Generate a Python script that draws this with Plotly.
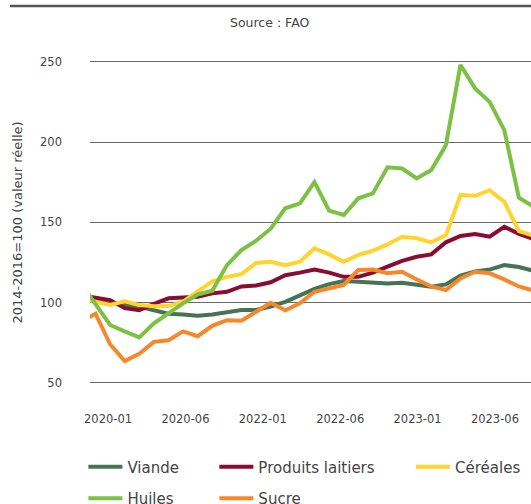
import plotly.graph_objects as go

months = ["2020-01", "2020-02", "2020-03", "2020-04", "2020-05", "2020-06",
          "2020-07", "2020-08", "2020-09", "2020-10", "2020-11", "2020-12",
          "2021-01", "2021-02", "2021-03", "2021-04", "2021-05", "2021-06",
          "2021-07", "2021-08", "2021-09", "2021-10", "2021-11", "2021-12",
          "2022-01", "2022-02", "2022-03", "2022-04", "2022-05", "2022-06",
          "2022-07", "2022-08"]

viande = [102.5, 101.0, 100.4, 98.4, 97.4, 95.5, 93.0, 92.6, 91.8, 92.5, 93.8, 95.4,
          95.4, 97.5, 100.4, 104.3, 108.5, 111.5, 113.4, 113.0, 112.3, 111.9, 112.3, 110.9,
          109.8, 111.3, 116.7, 119.4, 120.5, 123.3, 122.1, 119.8]
produits_laitiers = [104.5, 103.3, 101.5, 96.5, 95.2, 99.1, 102.6, 103.2, 103.6, 105.7, 106.7, 110.0,
                     110.6, 112.6, 117.0, 118.6, 120.5, 118.6, 116.0, 116.0, 118.6, 122.3, 126.0, 128.5,
                     130.0, 137.5, 141.5, 142.7, 141.0, 147.2, 142.7, 139.5]
cereales = [102.5, 100.8, 98.5, 100.7, 98.4, 97.7, 97.8, 100.5, 106.7, 113.2, 116.0, 117.7,
            124.6, 125.4, 123.3, 125.4, 133.7, 130.0, 125.4, 129.6, 132.3, 136.2, 141.0, 140.0,
            137.5, 142.0, 167.0, 166.5, 170.0, 162.8, 144.5, 141.6]
huiles = [112.0, 99.0, 86.0, 82.0, 78.3, 87.0, 93.4, 99.5, 105.0, 107.3, 123.3, 132.7,
          138.5, 146.0, 158.7, 161.8, 175.0, 157.2, 154.5, 164.9, 168.0, 184.2, 183.5, 177.3,
          182.6, 198.0, 248.0, 233.4, 225.0, 207.4, 165.3, 159.7]
sucre = [88.0, 93.0, 74.0, 63.5, 68.0, 75.5, 76.5, 82.0, 79.0, 85.5, 89.0, 88.7,
         94.2, 99.8, 95.2, 99.5, 106.7, 108.8, 110.9, 120.2, 120.5, 118.2, 119.2, 114.4,
         110.0, 107.8, 115.0, 119.2, 118.2, 114.4, 110.0, 107.4]

tick_labels = ["2020-01", "2020-06", "2022-01", "2022-06", "2023-01", "2023-06"]
y_ticks = [50, 100, 150, 200, 250]

x = list(range(len(months)))
tick_pos = [1.86 + 5.3 * k for k in range(len(tick_labels))]

series = [
    ("Viande", viande, "#487352", "legend"),
    ("Produits laitiers", produits_laitiers, "#8a0c31", "legend2"),
    ("Céréales", cereales, "#ffd42e", "legend3"),
    ("Huiles", huiles, "#7cc143", "legend"),
    ("Sucre", sucre, "#f7872b", "legend2"),
]

fig = go.Figure()
for name, vals, color, leg in series:
    fig.add_trace(go.Scatter(
        x=x, y=vals, name=name, mode="lines",
        line=dict(color=color, width=4),
        customdata=months, hovertemplate="%{customdata}: %{y}<extra>" + name + "</extra>",
        legend=leg, legendgroup=name,
    ))

font_family = "DejaVu Sans, Noto Sans, sans-serif"
txt = "#444444"

leg_common = dict(orientation="v", yref="container", yanchor="top", y=0.106, xanchor="left",
                  font=dict(family=font_family, size=15, color=txt),
                  bgcolor="rgba(0,0,0,0)", tracegroupgap=9, itemwidth=34)

fig.update_layout(
    width=531, height=504,
    margin=dict(l=90, r=0, t=55, b=114, autoexpand=False),
    paper_bgcolor="white", plot_bgcolor="white",
    font=dict(family=font_family, size=11.5, color=txt),
    showlegend=True,
    legend=dict(x=-0.015, **leg_common),
    legend2=dict(x=0.282, **leg_common),
    legend3=dict(x=0.728, **leg_common),
    xaxis=dict(range=[0.623, 30.83], tickmode="array", tickvals=tick_pos, ticktext=tick_labels,
               showgrid=False, zeroline=False, showline=False, ticks="",
               ticklabelstandoff=20, tickfont=dict(size=11.5, color=txt)),
    yaxis=dict(range=[45.5, 254.2], tickmode="array", tickvals=y_ticks,
               showgrid=True, gridcolor="#686868", gridwidth=1, zeroline=False,
               showline=False, ticks="", ticklabelstandoff=27,
               tickfont=dict(size=11.5, color=txt)),
    annotations=[
        dict(text="Source : FAO", xref="paper", yref="paper", x=0.408, y=1.0985,
             showarrow=False, font=dict(size=12.5, color=txt), xanchor="center", yanchor="middle"),
        dict(text="2014-2016=100 (valeur réelle)", xref="paper", yref="paper",
             x=-0.1655, y=0.5, textangle=-90, showarrow=False,
             font=dict(size=13, color=txt), xanchor="center", yanchor="middle"),
    ],
    shapes=[
        dict(type="line", xref="paper", yref="paper", x0=-0.1814, x1=1.0, y0=1.1463, y1=1.1463,
             line=dict(color="#555555", width=2.5)),
    ],
)

fig.write_html("out.html",
               config={"displayModeBar": False},
               post_script="document.body.style.margin='0';document.body.style.padding='0';"
                           "document.body.style.overflow='hidden';")
